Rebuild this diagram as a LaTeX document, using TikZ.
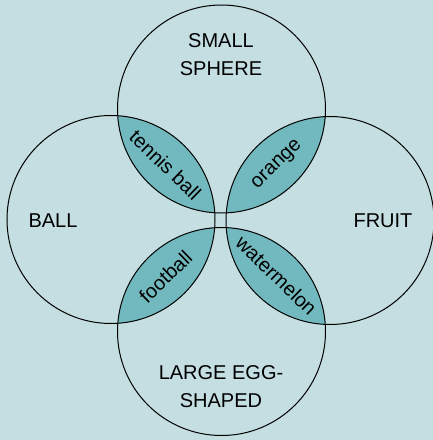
\documentclass[tikz,border=0pt]{standalone}
\usepackage{fontspec}
\setmainfont{Liberation Sans}
\usetikzlibrary{positioning}
\definecolor{vennbg}{HTML}{C4DEE2}
\definecolor{vennteal}{HTML}{71B9BE}
\tikzset{
  setcirc/.style ={draw=black, line width=1pt, circle, minimum size=208pt,
                   inner sep=0pt},
  lens/.style    ={fill=vennteal},
  setlabel/.style={align=center, font=\fontsize{20}{28}\selectfont, text=black},
  lenslabel/.style={font=\fontsize{20}{22}\selectfont, text=black, inner sep=0pt},
}
\newcommand{\rad}{104}

\begin{document}
\begin{tikzpicture}[x=1pt, y=-1pt]
  \fill[vennbg] (0,0) rectangle (433,440);
  \useasboundingbox (0,0) rectangle (433,440);

  % set centres
  \coordinate (sphere) at (221.5,109);
  \coordinate (ball)   at (111,219.5);
  \coordinate (fruit)  at (330,220.5);
  \coordinate (egg)    at (221.5,331.5);

  % shaded overlaps
  \begin{scope}
    \clip (sphere) circle[radius=\rad];
    \fill[lens] (ball) circle[radius=\rad];
    \fill[lens] (fruit) circle[radius=\rad];
  \end{scope}
  \begin{scope}
    \clip (egg) circle[radius=\rad];
    \fill[lens] (ball) circle[radius=\rad];
    \fill[lens] (fruit) circle[radius=\rad];
  \end{scope}

  % the four sets
  \node[setcirc] (csphere) at (sphere) {};
  \node[setcirc] (cball)   at (ball)   {};
  \node[setcirc] (cfruit)  at (fruit)  {};
  \node[setcirc] (cegg)    at (egg)    {};

  \node[setlabel] (lsphere) at (221,55)  {SMALL\\SPHERE};
  \node[setlabel] (lball)   at (53,221)  {BALL};
  \node[setlabel] (lfruit)  at (383,221) {FRUIT};
  \node[setlabel] (legg)    at (221,387) {LARGE EGG-\\SHAPED};

  \node[lenslabel, rotate=-44] (tennis) at (165.5,165)   {tennis ball};
  \node[lenslabel, rotate=44]  (orange) at (277.5,165)   {orange};
  \node[lenslabel, rotate=44]  (foot)   at (165.5,276.5) {football};
  \node[lenslabel, rotate=-44] (melon)  at (276.5,275.5) {watermelon};

\end{tikzpicture}
\end{document}
